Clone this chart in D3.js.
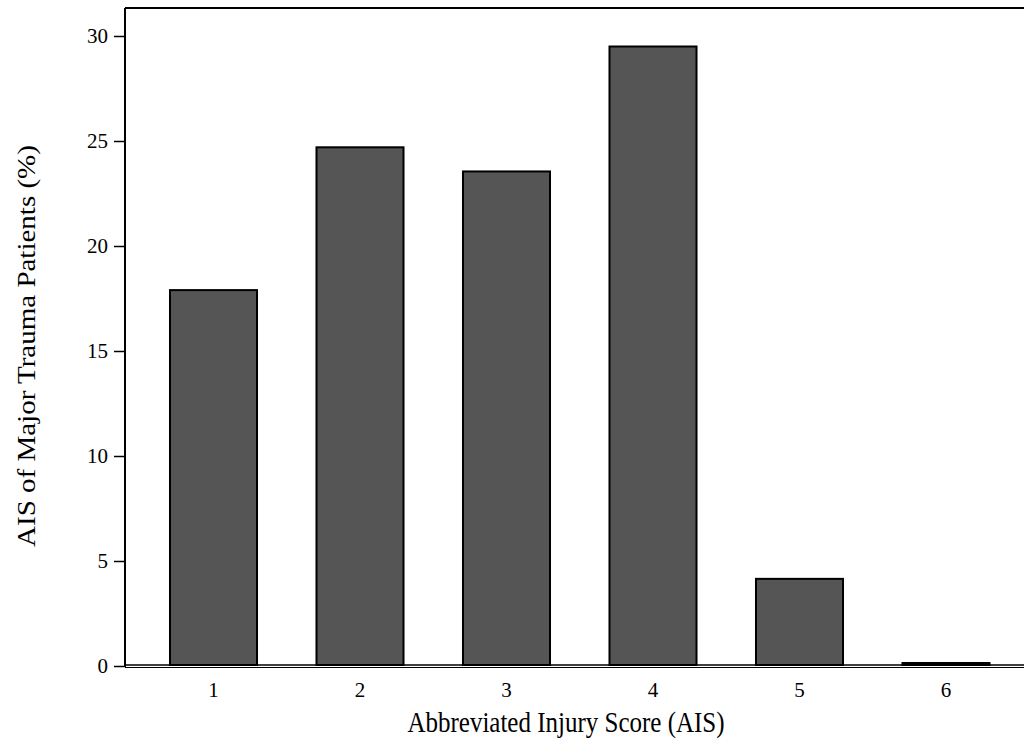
<!DOCTYPE html>
<html>
<head>
<meta charset="utf-8">
<script src="https://cdn.jsdelivr.net/npm/d3@7"></script>
<style>
  html, body { margin: 0; padding: 0; background: #fff; }
  svg { display: block; }
  text { font-family: "Liberation Serif", "Times New Roman", serif; fill: #000; }
</style>
</head>
<body>
<svg id="chart" width="1024" height="742"></svg>
<script>
// AIS distribution among major trauma patients
const categories = ["1", "2", "3", "4", "5", "6"];
const percentages = [17.9, 24.7, 23.55, 29.5, 4.15, 0.12];
const yTicks = [0, 5, 10, 15, 20, 25, 30];

const svg = d3.select("#chart");
const frameLeft = 125, frameTop = 8, frameRight = 1024, frameBottom = 665;
const serif = "Liberation Serif, Times New Roman, serif";

const x = d3.scaleBand()
  .domain(categories)
  .range([140.25, 1019.25])
  .paddingInner(0.406)
  .paddingOuter(0.203);

const y = d3.scaleLinear().domain([0, 30]).range([666, 36]);

// frame: top and left edges, baseline
svg.append("line").attr("x1", frameLeft).attr("x2", frameRight).attr("y1", frameTop).attr("y2", frameTop)
  .attr("stroke", "#000").attr("stroke-width", 2);
svg.append("line").attr("x1", frameLeft).attr("x2", frameLeft).attr("y1", frameTop).attr("y2", 667)
  .attr("stroke", "#000").attr("stroke-width", 2);
svg.append("line").attr("x1", frameLeft).attr("x2", frameRight).attr("y1", frameBottom).attr("y2", frameBottom)
  .attr("stroke", "#000").attr("stroke-width", 1.5);
svg.append("line").attr("x1", frameLeft).attr("x2", frameRight).attr("y1", 667.5).attr("y2", 667.5)
  .attr("stroke", "#000").attr("stroke-width", 1);

// bars
svg.append("g").selectAll("rect")
  .data(categories.map((c, i) => ({ c, v: percentages[i] })))
  .join("rect")
  .attr("x", d => x(d.c))
  .attr("width", x.bandwidth())
  .attr("y", d => Math.min(y(d.v), frameBottom - 2))
  .attr("height", d => Math.max(frameBottom - y(d.v), 2))
  .attr("fill", "#555555")
  .attr("stroke", "#000")
  .attr("stroke-width", 2);

// y axis
const yAxis = d3.axisLeft(y).tickValues(yTicks).tickSize(11).tickPadding(6);
const gy = svg.append("g").attr("transform", `translate(${frameLeft},0)`).call(yAxis);
gy.attr("font-size", null).attr("font-family", null);
gy.select(".domain").remove();
gy.selectAll(".tick line").attr("stroke", "#000").attr("stroke-width", 1.5);
gy.selectAll(".tick text")
  .style("font-size", "21px")
  .style("font-family", serif)
  .attr("fill", "#000");

// x axis labels
const xAxis = d3.axisBottom(x).tickSize(0).tickPadding(15);
const gx = svg.append("g").attr("transform", `translate(0,667)`).call(xAxis);
gx.attr("font-size", null).attr("font-family", null);
gx.select(".domain").remove();
gx.selectAll(".tick text")
  .style("font-size", "21px")
  .style("font-family", serif)
  .attr("fill", "#000");

// axis titles
svg.append("text")
  .attr("transform", "translate(566,731.5) scale(1,1.16)")
  .attr("text-anchor", "middle")
  .style("font-size", "25px")
  .style("font-family", serif)
  .text("Abbreviated Injury Score (AIS)");

svg.append("text")
  .attr("transform", "translate(35,346) rotate(-90) scale(1.16,1)")
  .attr("text-anchor", "middle")
  .style("font-size", "25px")
  .style("font-family", serif)
  .text("AIS of Major Trauma Patients (%)");
</script>
</body>
</html>
